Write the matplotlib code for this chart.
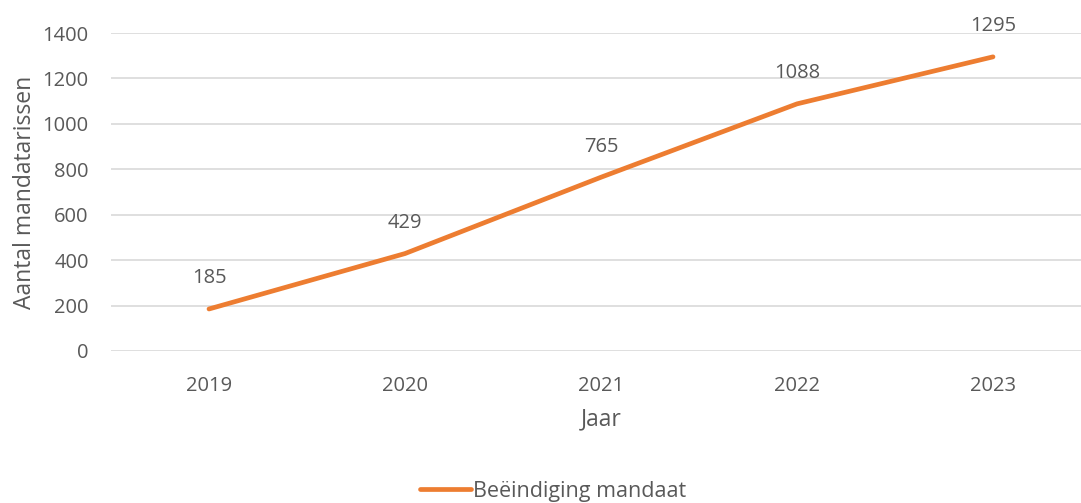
import matplotlib.pyplot as plt

plt.rcParams['font.family'] = ['Open Sans', 'DejaVu Sans']

jaren = ["2019", "2020", "2021", "2022", "2023"]
beeindiging = [185, 429, 765, 1088, 1295]
y_ticks = [0, 200, 400, 600, 800, 1000, 1200, 1400]

grijs = "#595959"
oranje = "#ED7D31"

fig = plt.figure(figsize=(10.81, 5.03), dpi=100)
ax = fig.add_axes([111 / 1081, 152 / 503, 980 / 1081, 318 / 503])

x = list(range(len(jaren)))
line, = ax.plot(x, beeindiging, color=oranje, linewidth=3.4,
                solid_capstyle="round", label="Beëindiging mandaat")

for xi, v in zip(x, beeindiging):
    ax.annotate(str(v), (xi, v), xytext=(0, 22), textcoords="offset points",
                ha="center", va="center", fontsize=14.5, color=grijs)

ax.set_xlim(-0.5, len(jaren) - 0.5)
ax.set_ylim(0, 1400)
ax.set_yticks(y_ticks)
ax.set_xticks(x)
ax.set_xticklabels(jaren)
ax.tick_params(axis="both", length=0, labelsize=14.5, labelcolor=grijs)
ax.tick_params(axis="x", pad=18)
ax.tick_params(axis="y", pad=16)
ax.grid(axis="y", color="#D9D9D9", linewidth=1.2)
ax.set_axisbelow(True)
for s in ax.spines.values():
    s.set_visible(False)

ax.set_xlabel("Jaar", fontsize=16.5, color=grijs, labelpad=8)
ax.set_ylabel("Aantal mandatarissen", fontsize=16.5, color=grijs, labelpad=4)

fig.legend(handles=[line], loc="center", bbox_to_anchor=(553 / 1081, 1 - 491 / 503),
           frameon=False, fontsize=15.5, labelcolor=grijs, handlelength=2.4,
           handletextpad=0.1)

fig.savefig("out.png", dpi=100)
